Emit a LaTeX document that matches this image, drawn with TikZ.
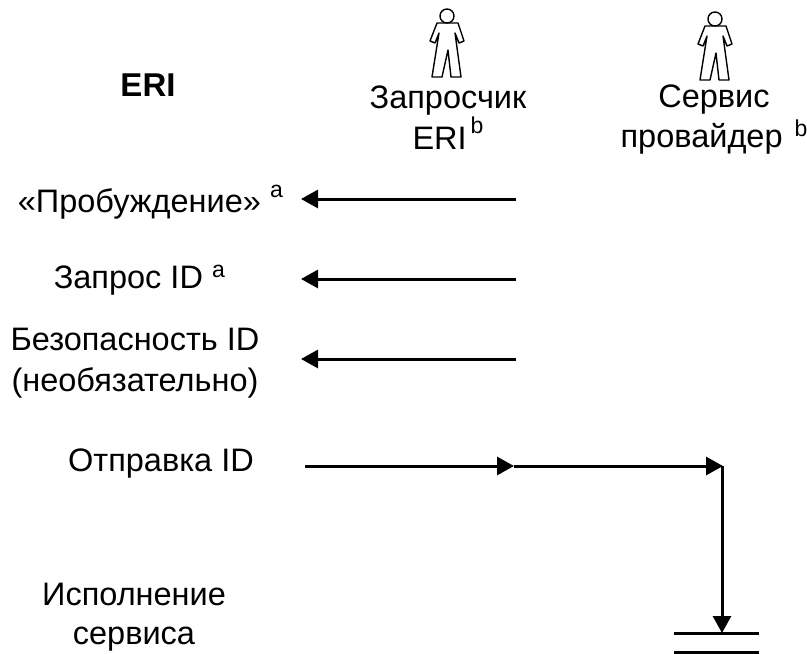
\documentclass[tikz,border=0pt]{standalone}
\usepackage{fontspec}
\setmainfont{Liberation Sans}
\usetikzlibrary{arrows.meta}
\tikzset{
  lbl/.style={font=\fontsize{32.5}{40}\selectfont,align=center,inner sep=0pt,text=black},
  boldlbl/.style={lbl,font=\fontsize{33}{41}\selectfont\bfseries},
  flow/.style={line width=3pt,draw=black},
  head/.style={-{Triangle[length=17pt,width=18pt]}},
  person/.style={line width=1.4pt,draw=black,line join=round,fill=white},
}
\newcommand{\supm}[3]{\hspace{#1pt}\smash{\raisebox{#2pt}{\fontsize{23}{23}\selectfont #3}}}
\newcommand{\drawperson}[1]{%
  \begin{scope}[shift={(#1)}]
    \draw[person] (-10,-23) -- (-17,-41) -- (-12,-43) -- (-8,-33) -- (-15,-77) -- (-5,-77) -- (1,-50) -- (4,-77) -- (14,-77) -- (8,-33) -- (12,-43) -- (17,-41) -- (11,-23) -- cycle;
    \draw[person] (0,-16) circle (7);
  \end{scope}}
\begin{document}
\begin{tikzpicture}[x=1pt,y=1pt]
\useasboundingbox (0,0) rectangle (807,-654);
\drawperson{447,0}
\drawperson{715,-3}
\node[boldlbl] (eri) at (148,-85) {ERI};
\node[lbl] (req) at (448,-118) {Запросчик\\[1pt]ERI\supm{4}{16}{b}};
\node[lbl] (sp) at (714,-120) {Сервис\\провайдер\supm{12}{11}{b}};
\node[lbl,anchor=base east] (wake) at (283,-212) {«Пробуждение»\supm{9}{15}{a}};
\node[lbl,anchor=base east] (qid) at (225,-288) {Запрос ID\supm{9}{11}{a}};
\node[lbl] (sec) at (135,-363.5) {Безопасность ID\\[1pt](необязательно)};
\node[lbl] (send) at (161,-463.5) {Отправка ID};
\node[lbl] (exec) at (134,-617) {Исполнение\\[-1pt]сервиса};
\coordinate (a1s) at (516,-199); \coordinate (a1e) at (301,-199);
\coordinate (a2s) at (516,-279); \coordinate (a2e) at (301,-279);
\coordinate (a3s) at (516,-359); \coordinate (a3e) at (301,-359);
\coordinate (b0) at (305,-466); \coordinate (b1) at (514,-466);
\coordinate (b2) at (723,-466); \coordinate (b3) at (722,-633);
\coordinate (c1) at (674,-633); \coordinate (c2) at (759,-633);
\coordinate (d1) at (674,-652); \coordinate (d2) at (759,-652);
\draw[flow,head] (a1s) -- (a1e);
\draw[flow,head] (a2s) -- (a2e);
\draw[flow,head] (a3s) -- (a3e);
\draw[flow,head] (b0) -- (b1);
\draw[flow,head] (b1) -- (b2);
\draw[flow,head] (722,-466) -- (b3);
\draw[flow] (c1) -- (c2);
\draw[flow] (d1) -- (d2);
\end{tikzpicture}
\end{document}
